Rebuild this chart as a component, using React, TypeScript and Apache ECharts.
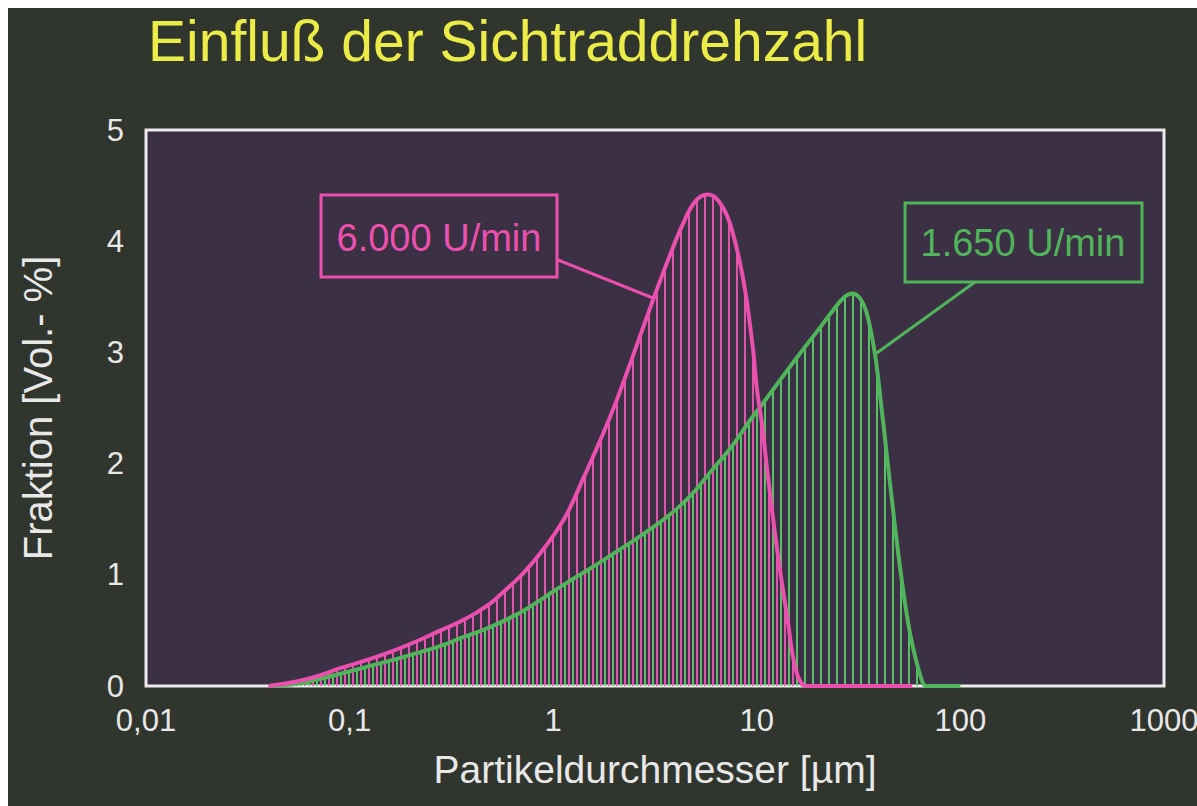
import React, { useEffect, useRef } from "react";
import * as echarts from "echarts";

const TITLE = "Einfluß der Sichtraddrehzahl";
const X_NAME = "Partikeldurchmesser [µm]";
const Y_NAME = "Fraktion [Vol.- %]";
const X_TICK_LABELS = ["0,01", "0,1", "1", "10", "100", "1000"];
const SERIES_NAMES = ["6.000 U/min", "1.650 U/min"];

// 6.000 U/min (pink)
const pinkX = [0.04, 0.055, 0.07, 0.09, 0.12, 0.16, 0.2, 0.28, 0.35, 0.42, 0.49, 0.55, 0.7, 0.86, 1.0, 1.17, 1.4, 1.76, 2.06, 2.5, 3.09, 3.7, 4.35, 5.0, 5.75, 6.5, 7.38, 8.55, 9.55, 10.0, 10.7, 11.2, 12.6, 14.1, 15.7, 17.6, 25, 40, 58];
const pinkY = [0, 0.04, 0.09, 0.16, 0.23, 0.31, 0.38, 0.5, 0.58, 0.66, 0.74, 0.82, 1.0, 1.19, 1.35, 1.55, 1.86, 2.27, 2.58, 3.0, 3.47, 3.85, 4.16, 4.36, 4.42, 4.36, 4.16, 3.67, 3.05, 2.68, 2.3, 1.97, 1.22, 0.62, 0.12, 0, 0, 0, 0];

// 1.650 U/min (green)
const greenX = [0.04, 0.055, 0.07, 0.09, 0.12, 0.16, 0.2, 0.28, 0.35, 0.49, 0.69, 0.86, 1.0, 1.17, 1.5, 1.9, 2.4, 3.0, 3.5, 4.2, 5.0, 5.9, 7.5, 9.27, 10.4, 13, 16.3, 20, 23.7, 27, 29.4, 32, 34.7, 38, 40.3, 45, 50.5, 56.5, 64.6, 68.5, 100];
const greenY = [0, 0.02, 0.06, 0.11, 0.17, 0.23, 0.28, 0.36, 0.43, 0.53, 0.66, 0.77, 0.85, 0.93, 1.05, 1.17, 1.29, 1.41, 1.5, 1.62, 1.76, 1.92, 2.15, 2.39, 2.51, 2.75, 2.99, 3.2, 3.38, 3.5, 3.53, 3.49, 3.35, 2.99, 2.62, 1.84, 1.07, 0.48, 0.05, 0, 0];

const FONT = "'Liberation Sans', Arial, Helvetica, sans-serif";
const PINK = "#ec50ae";
const GREEN = "#4fb45a";
const TEXT = "#e8e8e8";

function makeHatch(color: string, offset: number) {
  const c = document.createElement("canvas");
  c.width = 8;
  c.height = 8;
  const ctx = c.getContext("2d")!;
  ctx.fillStyle = color;
  ctx.fillRect(offset, 0, 2, 8);
  return { image: c, repeat: "repeat", imageWidth: 8, imageHeight: 8 } as any;
}

function zip(xs: number[], ys: number[]) {
  return xs.map((x, i) => [x, ys[i]]);
}

export default function App() {
  const ref = useRef<HTMLDivElement>(null);
  useEffect(() => {
    if (!ref.current) return;
    const chart = echarts.init(ref.current, null, { renderer: "svg" });
    const pinkData = zip(pinkX, pinkY);
    const greenData = zip(greenX, greenY);
    const areaBase = {
      type: "line",
      smooth: 0.4,
      showSymbol: false,
      symbol: "none",
      lineStyle: { width: 0, opacity: 0 },
      z: 1,
      silent: true,
    };
    const lineBase = {
      type: "line",
      smooth: 0.4,
      showSymbol: false,
      symbol: "none",
      z: 3,
      silent: true,
    };
    chart.setOption({
      animation: false,
      backgroundColor: "#30352d",
      title: {
        text: TITLE,
        left: 140,
        top: 4,
        padding: 0,
        textStyle: { color: "#ecec48", fontSize: 57, fontWeight: "normal", fontFamily: FONT },
      },
      grid: {
        left: 138,
        right: 33,
        top: 122,
        bottom: 120,
        show: true,
        backgroundColor: "#3b3044",
        borderColor: "#ececec",
        borderWidth: 3,
        containLabel: false,
        outerBoundsMode: "none",
      },
      xAxis: {
        type: "log",
        logBase: 10,
        min: 0.01,
        max: 1000,
        name: X_NAME,
        nameLocation: "middle",
        nameGap: 64,
        nameMoveOverlap: false,
        nameTextStyle: { color: TEXT, fontSize: 39, fontFamily: FONT },
        axisLine: { show: false },
        axisTick: { show: false },
        splitLine: { show: false },
        minorTick: { show: false },
        axisLabel: {
          color: TEXT,
          fontSize: 31,
          fontFamily: FONT,
          margin: 19,
          formatter: (v: number) => X_TICK_LABELS[Math.round(Math.log10(v)) + 2] ?? "",
        },
      },
      yAxis: {
        type: "value",
        min: 0,
        max: 5,
        interval: 1,
        name: Y_NAME,
        nameLocation: "middle",
        nameRotate: 90,
        nameGap: 88,
        nameMoveOverlap: false,
        nameTextStyle: { color: TEXT, fontSize: 40, fontFamily: FONT },
        axisLine: { show: false },
        axisTick: { show: false },
        splitLine: { show: false },
        axisLabel: { color: TEXT, fontSize: 31, fontFamily: FONT, margin: 22 },
      },
      series: [
        {
          ...areaBase,
          name: SERIES_NAMES[1] + " area",
          data: greenData,
          areaStyle: { color: makeHatch("rgba(95,205,110,0.9)", 4), opacity: 1 },
        },
        {
          ...areaBase,
          name: SERIES_NAMES[0] + " area",
          data: pinkData,
          areaStyle: { color: makeHatch("rgba(240,90,180,0.9)", 0), opacity: 1 },
        },
        {
          ...lineBase,
          name: SERIES_NAMES[1],
          data: greenData,
          lineStyle: { color: GREEN, width: 4 },
          itemStyle: { color: GREEN },
        },
        {
          ...lineBase,
          name: SERIES_NAMES[0],
          data: pinkData,
          lineStyle: { color: PINK, width: 4 },
          itemStyle: { color: PINK },
        },
      ],
      graphic: [
        {
          type: "rect",
          shape: { x: 313, y: 187, width: 236, height: 82 },
          style: { fill: "none", stroke: PINK, lineWidth: 3 },
          z: 10,
        },
        {
          type: "text",
          style: {
            text: SERIES_NAMES[0],
            x: 431,
            y: 230,
            align: "center",
            verticalAlign: "middle",
            fill: PINK,
            fontSize: 38,
            fontFamily: FONT,
          },
          z: 10,
        },
        {
          type: "line",
          shape: { x1: 550, y1: 252, x2: 645, y2: 290 },
          style: { stroke: PINK, lineWidth: 3 },
          z: 10,
        },
        {
          type: "rect",
          shape: { x: 897, y: 195, width: 237, height: 79 },
          style: { fill: "none", stroke: GREEN, lineWidth: 3 },
          z: 10,
        },
        {
          type: "text",
          style: {
            text: SERIES_NAMES[1],
            x: 1015,
            y: 235,
            align: "center",
            verticalAlign: "middle",
            fill: GREEN,
            fontSize: 38,
            fontFamily: FONT,
          },
          z: 10,
        },
        {
          type: "line",
          shape: { x1: 967, y1: 274, x2: 866, y2: 347 },
          style: { stroke: GREEN, lineWidth: 3 },
          z: 10,
        },
      ],
    });
    return () => chart.dispose();
  }, []);
  return (
    <div
      ref={ref}
      style={{ position: "fixed", left: 8, top: 8, width: 1189, height: 798 }}
    />
  );
}
